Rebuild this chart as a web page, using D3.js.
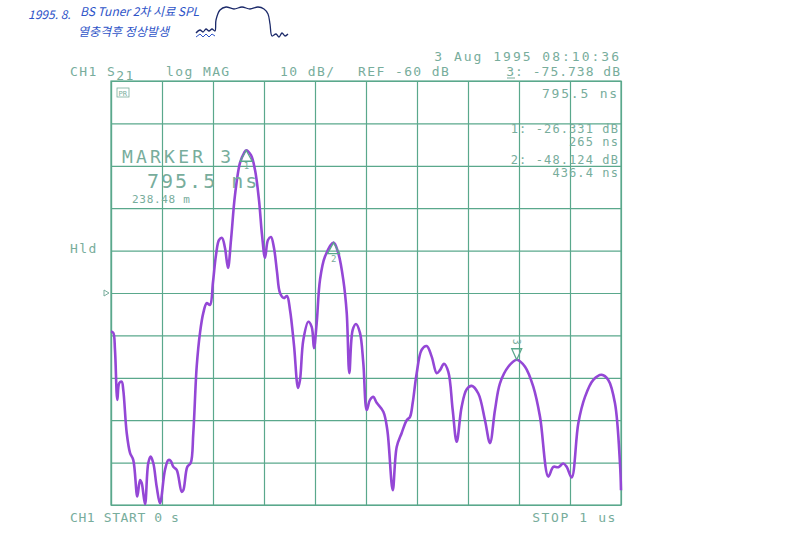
<!DOCTYPE html>
<html>
    <head>
        <style>
            body { margin: 0; background: white; }
            .grille line, .grille path { stroke: #5aa88c; stroke-width: 1.2; }
            .txt { fill: #78ad9c; font-family: "DejaVu Sans Mono", monospace; font-size: 13px; }
            .main { fill: none; stroke: #9447d6; stroke-width: 2.6; stroke-linejoin: round; }
            .manu { fill: #2f55c8; font-family: "Noto Sans CJK KR", sans-serif; font-style: italic; font-size: 12px; }
        </style>
    </head>
    <body>
        <div id="plateau"></div>
        <script src="https://cdn.jsdelivr.net/npm/d3@7/dist/d3.min.js"></script>
        <script>

//////////////////// donnees ////////////////////
// temps en ns, amplitude en dB (S21 log MAG)
let temps = [0, 4.5, 7.8, 12.4, 16.3, 21.0, 24.1, 30.8, 37.3, 43.7, 51.6, 56.9, 60.2, 66.7, 73.1, 77.8, 82.9, 89.6, 96.1,
    105.9, 112.4, 117.1, 122.2, 128.8, 138.6, 141.8, 149.6, 156.3, 161.4, 168.0, 174.5, 181.0, 187.6, 194.1,
    200.0, 205.9, 211.8, 217.6, 223.5, 229.4, 235.3, 243.1, 252.9, 260.8, 265, 274.5, 282.4, 290.2, 296.1,
    302.0, 307.8, 313.7, 319.6, 325.5, 331.4, 339.2, 345.1, 351.0, 358.8, 366.7, 370.6, 377.1, 386.9, 393.5,
    398.0, 403.3, 409.8, 419.6, 436.4, 445.7, 455.5, 462.2, 467.3, 473.9, 480.4, 488.2, 494.7, 501.4, 507.8,
    514.3, 521.0, 534.0, 541.8, 552.4, 560.2, 570.0, 579.8, 586.3, 591.6, 599.4, 609.2, 619.0, 628.8, 638.6,
    645.1, 652.9, 661.4, 670.0, 677.8, 687.6, 697.5, 707.3, 720.2, 733.3, 743.1, 752.9, 762.7, 779.0, 795.5,
    811.8, 828.0, 841.2, 857.5, 867.3, 877.1, 886.9, 893.5, 903.3, 916.3, 929.4, 945.7, 962.2, 975.1, 988.2,
    998.0, 1000];
let mesure = [-69.1, -69.4, -73.4, -85.2, -81.2, -80.9, -82.9, -93.0, -97.7, -99.4, -108.0, -104.1, -104.8, -109.8, -100.1, -98.6, -100.1, -105.7, -109.6,
    -101.7, -99.4, -99.6, -101.0, -101.7, -106.9, -106.5, -101.0, -100.1, -93.0, -77.4, -69.4, -64.7, -62.4, -62.8,
    -57.4, -51.0, -47.5, -47.0, -49.4, -54.1, -47.5, -36.9, -29.3, -27.0, -26.331, -27.5, -31.0, -38.1, -46.3,
    -51.7, -47.5, -46.8, -49.4, -55.0, -60.0, -61.2, -60.7, -64.0, -72.3, -82.4, -80.5, -71.1, -66.8, -68.0,
    -73.0, -67.1, -56.9, -51.4, -48.124, -50.6, -56.9, -64.7, -78.9, -68.7, -67.3, -69.4, -76.5, -87.6, -85.2,
    -84.5, -85.9, -88.0, -92.3, -106.5, -96.3, -93.0, -90.0, -89.2, -85.9, -78.9, -73.4, -72.5, -75.0, -78.9,
    -78.2, -76.7, -78.6, -87.6, -95.1, -86.8, -82.7, -81.9, -83.7, -90.0, -95.4, -87.6, -81.3, -77.4, -75.738,
    -77.4, -82.1, -89.2, -103.3, -101.0, -101.1, -100.2, -101.0, -103.5, -90.7, -84.5, -80.5, -79.3, -80.5, -86.0,
    -100.2, -106.5];

let marqueurs_nom = ['1', '2', '3'];
let marqueurs_t = [265, 436.4, 795.5];
let marqueurs_db = [-26.331, -48.124, -75.738];

let REF_DB = -60;
let T_START = 0, T_STOP = 1000;
let DB_HAUT = -10, DB_BAS = -110;

//////////////////// position ////////////////////
let W = 800, H = 533;
let G = 111, D = 621, HT = 81, B = 505;

let svg = d3.select('#plateau').append('svg')
    .attr('width', W)
    .attr('height', H);

svg.append('rect').attr('width', W).attr('height', H).attr('fill', 'white');

let x = d3.scaleLinear().domain([T_START, T_STOP]).range([G, D]);
let y = d3.scaleLinear().domain([DB_BAS, DB_HAUT]).range([B, HT]);

// grille
svg.append('g')
    .classed('grille', true)
    .attr('transform', `translate(0, ${B})`)
    .call(d3.axisBottom(x).ticks(10).tickSize(-(B-HT)).tickFormat('').tickSizeOuter(0));
svg.append('g')
    .classed('grille', true)
    .attr('transform', `translate(${G}, 0)`)
    .call(d3.axisLeft(y).ticks(10).tickSize(-(D-G)).tickFormat('').tickSizeOuter(0));
svg.append('rect')
    .attr('x', G).attr('y', HT).attr('width', D-G).attr('height', B-HT)
    .attr('fill', 'none').attr('stroke', '#5aa88c').attr('stroke-width', 1.2);

// trace
let ligne = d3.line()
    .x((d, i) => x(temps[i]))
    .y((d) => y(d))
    .curve(d3.curveCatmullRom.alpha(0.5));
svg.append('path')
    .classed('main', true)
    .attr('d', ligne(mesure));

// marqueurs
marqueurs_nom.forEach((nom, i) => {
    let mx = x(marqueurs_t[i]), my = y(marqueurs_db[i]);
    let g = svg.append('g').attr('transform', `translate(${mx}, ${my})`);
    if (nom === '3') {
        g.append('path').attr('d', 'M -5 -11 L 5 -11 L 0 0 Z')
            .attr('fill', 'none').attr('stroke', '#5aa88c').attr('stroke-width', 1.3);
        g.append('text').classed('txt', true).style('font-size', '10px')
            .attr('transform', 'translate(-4, -21) rotate(90)').text(nom);
    } else {
        g.append('path').attr('d', 'M 0 0 L 6 11 L -6 11 Z')
            .attr('fill', 'none').attr('stroke', '#5aa88c').attr('stroke-width', 1.3);
        g.append('text').classed('txt', true).style('font-size', '9px')
            .attr('x', -2.5).attr('y', 19).text(nom);
    }
});

// indicateur de reference
svg.append('path')
    .attr('d', `M ${G-7} ${y(REF_DB)-3} L ${G-2} ${y(REF_DB)} L ${G-7} ${y(REF_DB)+3} Z`)
    .attr('fill', 'none').attr('stroke', '#78ad9c').attr('stroke-width', 1);

//////////////////// textes ////////////////////
function txt(px, py, s, opts) {
    opts = opts || {};
    let t = svg.append('text').classed('txt', true)
        .attr('x', px).attr('y', py)
        .attr('text-anchor', opts.anchor || 'start')
        .text(s);
    if (opts.size) t.style('font-size', opts.size + 'px');
    if (opts.ls) t.attr('letter-spacing', opts.ls);
    return t;
}

txt(621, 61, '3 Aug 1995  08:10:36', {anchor: 'end', ls: 2});
txt(70, 76, 'CH1', {ls: 1.4});
let s21 = txt(107, 76, 'S', {ls: 1.4});
s21.append('tspan').attr('dy', 4).text('21');
txt(166, 76, 'log MAG', {ls: 1.4});
txt(280, 76, '10 dB/', {ls: 1.4});
txt(358, 76, 'REF -60 dB', {ls: 1.4});
txt(621, 76, '3: -75.738 dB', {anchor: 'end', ls: 1.0});
svg.append('line').attr('x1', 507).attr('x2', 515).attr('y1', 78).attr('y2', 78)
    .attr('stroke', '#78ad9c').attr('stroke-width', 1);

txt(619, 98, '795.5 ns', {anchor: 'end', ls: 1.8});
txt(619, 133, '1: -26.331 dB', {anchor: 'end', size: 12, ls: 1.1});
txt(619, 146, '265 ns', {anchor: 'end', size: 12, ls: 1.1});
txt(619, 164, '2: -48.124 dB', {anchor: 'end', size: 12, ls: 1.1});
txt(619, 177, '436.4 ns', {anchor: 'end', size: 12, ls: 1.1});

txt(122, 163, 'MARKER 3', {size: 18, ls: 3.2});
txt(147, 188, '795.5 ns', {size: 20, ls: 2});
txt(132, 203, '238.48 m', {size: 11, ls: 0.7});

txt(70, 253, 'Hld', {ls: 1.4});
txt(70, 522, 'CH1 START 0 s', {ls: 0.6});
txt(617, 522, 'STOP 1 us', {anchor: 'end', ls: 1.6});

// petit symbole PRm
svg.append('rect').attr('x', 117).attr('y', 88).attr('width', 12).attr('height', 9)
    .attr('fill', 'none').attr('stroke', '#78ad9c').attr('stroke-width', 0.8);
txt(118.5, 95.5, 'PR', {size: 7});

//////////////////// annotation manuscrite ////////////////////
svg.append('text').classed('manu', true).attr('x', 28).attr('y', 19).text('1995. 8.');
svg.append('text').classed('manu', true).attr('x', 80).attr('y', 16).text('BS Tuner 2차 시료 SPL');
svg.append('text').classed('manu', true).attr('x', 78).attr('y', 36).text('열충격후 정상발생');

let croquis = [[196, 33], [200, 30], [203, 32], [206, 29], [209, 31], [212, 29], [215, 31], [216, 20],
    [220, 10], [226, 7], [234, 9], [242, 7], [250, 9], [258, 7], [264, 9], [268, 14], [270, 24], [272, 36],
    [276, 34], [279, 37], [282, 33], [285, 36], [288, 34]];
svg.append('path')
    .attr('d', d3.line().curve(d3.curveCatmullRom)(croquis))
    .attr('fill', 'none').attr('stroke', '#1c2a6a').attr('stroke-width', 1.3);
let croquis2 = [[196, 37], [200, 34], [203, 37], [206, 34], [209, 37], [212, 34], [215, 36]];
svg.append('path')
    .attr('d', d3.line()(croquis2))
    .attr('fill', 'none').attr('stroke', '#2f55c8').attr('stroke-width', 1);

        </script>
    </body>
</html>
